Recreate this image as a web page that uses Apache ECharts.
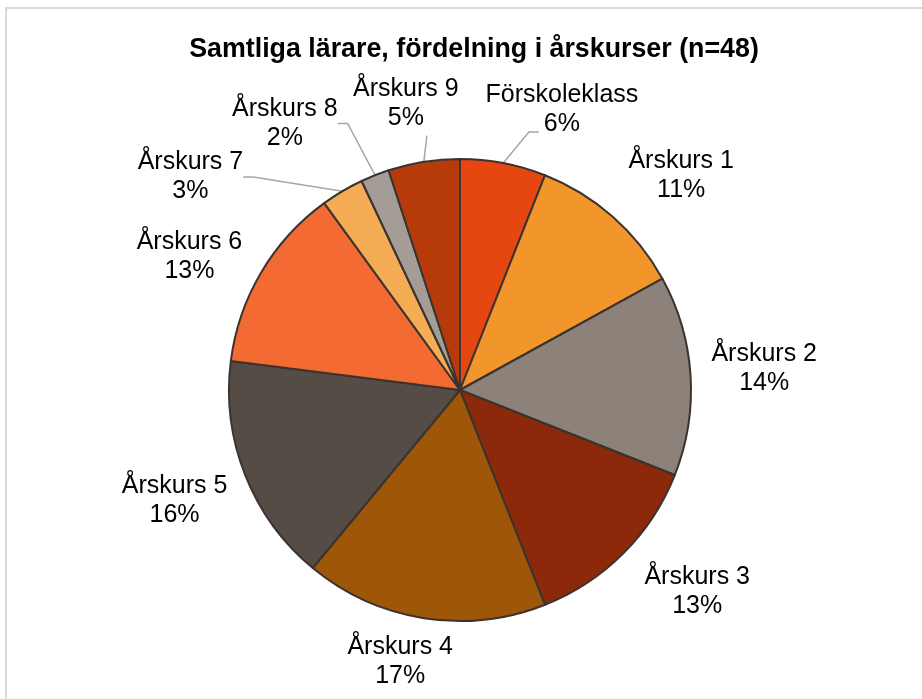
<!DOCTYPE html>
<html>
<head>
<meta charset="utf-8">
<script src="https://cdn.jsdelivr.net/npm/echarts@6/dist/echarts.min.js"></script>
<style>
html, body { margin: 0; padding: 0; background: #fff; }
#box { width: 922px; height: 699px; }
#frame {
  position: absolute; left: 5px; top: 7px; right: 0; bottom: 0;
  border-top: 2px solid #d9d9d9; border-left: 2px solid #d9d9d9;
  pointer-events: none;
}
</style>
</head>
<body>
<div id="box"></div>
<div id="frame"></div>
<script>
const categories = ['Förskoleklass', 'Årskurs 1', 'Årskurs 2', 'Årskurs 3', 'Årskurs 4',
  'Årskurs 5', 'Årskurs 6', 'Årskurs 7', 'Årskurs 8', 'Årskurs 9'];
const shares = [6, 11, 14, 13, 17, 16, 13, 3, 2, 5];
const colors = ['#e6460f', '#f2952b', '#8c8279', '#8b290a', '#9e5609',
  '#554c46', '#f36a33', '#f4ac55', '#a39c97', '#b73a0b'];

// label placement: clearance from the pie edge (px) and a turn from the slice middle (deg)
const labelGap = [21, 19, 20, 21, 12, 15, 10, 53, 36, 26];
const labelTurn = [9.2, 4.5, -0.5, -4.7, 3.4, 0.5, -4.4, -21.1, -11.7, -1.7];
const withLeader = [true, false, false, false, false, false, false, true, true, true];

const CX = 460, CY = 390, R = 231;
const labelFont = 'Liberation Sans';

const total = shares.reduce((a, b) => a + b, 0);
const midAngles = [];
let acc = 0;
shares.forEach(v => { midAngles.push((acc + v / 2) / total * 360); acc += v; });

// width of the second label line (the percentage), for the first leader
const ctx = document.createElement('canvas').getContext('2d');
ctx.font = '25px ' + labelFont;

let myecharts = echarts.init(document.getElementById('box'));
let option = {
  animation: false,
  title: {
    text: 'Samtliga lärare, fördelning i årskurser (n=48)',
    left: 469,
    textAlign: 'center',
    top: 31,
    textStyle: {
      fontFamily: 'Liberation Sans',
      fontSize: 26.8,
      fontWeight: 'bold',
      color: '#000'
    }
  },
  series: [{
    type: 'pie',
    center: [CX, CY],
    radius: R,
    startAngle: 90,
    clockwise: true,
    avoidLabelOverlap: false,
    emphasis: { disabled: true },
    itemStyle: { borderColor: '#3a3330', borderWidth: 2 },
    label: {
      position: 'outside',
      formatter: '{b}\n{c}%',
      fontFamily: labelFont,
      fontSize: 25,
      lineHeight: 29,
      color: '#000'
    },
    labelLine: {
      length: 10,
      length2: 10,
      lineStyle: { color: '#a6a6a6', width: 1.5 }
    },
    labelLayout: function (p) {
      const i = p.dataIndex;
      const a = (midAngles[i] + labelTurn[i]) * Math.PI / 180;
      const ux = Math.sin(a), uy = -Math.cos(a);
      const w = p.labelRect.width / 2, h = p.labelRect.height / 2;
      let d = R;
      for (; d < R + 300; d += 0.5) {
        const ex = Math.max(0, d * Math.abs(ux) - w);
        const ey = Math.max(0, d * Math.abs(uy) - h);
        if (Math.sqrt(ex * ex + ey * ey) >= R + labelGap[i]) break;
      }
      const lx = CX + d * ux, ly = CY + d * uy;
      const res = { x: lx, y: ly, align: 'center', verticalAlign: 'middle' };
      const m = midAngles[i] * Math.PI / 180;
      const sx = CX + R * Math.sin(m), sy = CY - R * Math.cos(m);
      if (i === 0) {
        // leader enters from the left, level with the percentage
        const ex = lx - ctx.measureText(shares[i] + '%').width / 2 - 5;
        const ey = ly + 22;
        res.labelLinePoints = [[sx, sy], [ex - 10, ey], [ex, ey]];
      } else if (i === 9) {
        // nearly vertical leader up to just under the label
        res.labelLinePoints = [[sx, sy], [sx + 3, ly + h + 3]];
      }
      return res;
    },
    data: categories.map((name, i) => ({
      name: name,
      value: shares[i],
      itemStyle: { color: colors[i] },
      labelLine: { show: withLeader[i] }
    }))
  }]
};
myecharts.setOption(option);

window.onresize = function () {
  myecharts.resize();
};
</script>
</body>
</html>
